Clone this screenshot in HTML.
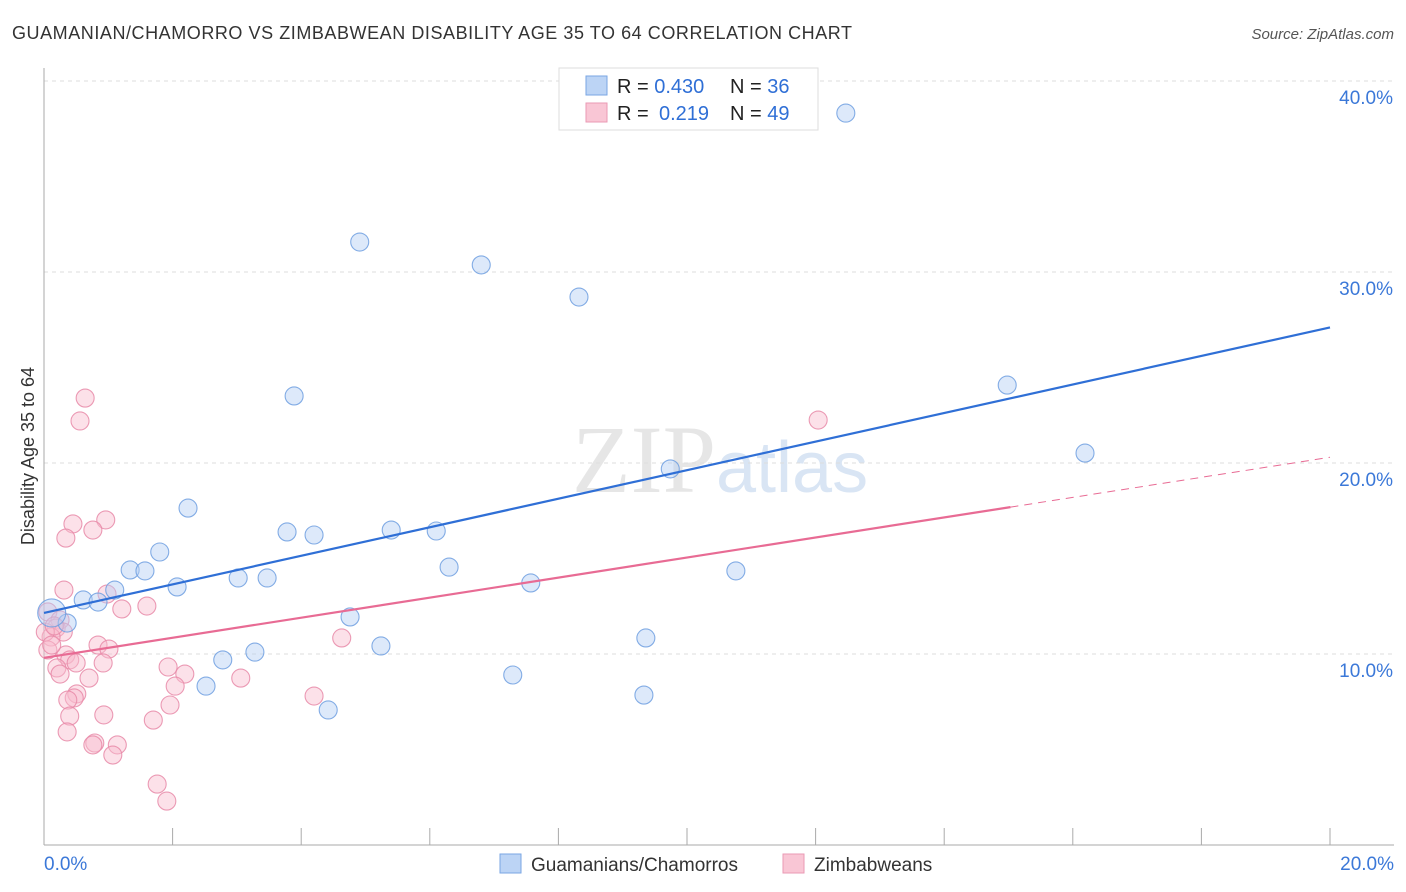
<!DOCTYPE html>
<html><head><meta charset="utf-8"><style>
body{margin:0;background:#fff;font-family:"Liberation Sans",sans-serif;}
svg{display:block}
</style></head><body>
<svg id="chart" width="1406" height="892" xmlns="http://www.w3.org/2000/svg">
<text x="12" y="39" font-size="18" fill="#333" textLength="840">GUAMANIAN/CHAMORRO VS ZIMBABWEAN DISABILITY AGE 35 TO 64 CORRELATION CHART</text>
<text x="1394" y="39" font-size="15" fill="#555" font-style="italic" text-anchor="end">Source: ZipAtlas.com</text>
<text x="716" y="492" font-size="96" fill="#e6e6e6" text-anchor="end" font-family="Liberation Serif,serif">ZIP</text>
<text x="716" y="492" font-size="72" fill="#d9e5f4">atlas</text>
<g id="grid"></g><g id="axes"></g><g id="marks"></g>
<text transform="translate(34,456) rotate(-90)" font-size="18" fill="#333" text-anchor="middle">Disability Age 35 to 64</text>
<g>
<rect x="559" y="68" width="259" height="62" fill="#fff" stroke="#ddd"/>
<rect x="586" y="76" width="21" height="19" fill="#bcd4f5" stroke="#7aa6e3"/>
<rect x="586" y="103" width="21" height="19" fill="#f9c6d5" stroke="#ea9ab4"/>
<text x="617" y="93" font-size="20" fill="#222">R = <tspan fill="#2f6fd6">0.430</tspan><tspan x="730">N = </tspan><tspan fill="#2f6fd6">36</tspan></text>
<text x="617" y="120" font-size="20" fill="#222">R = <tspan fill="#2f6fd6" x="659">0.219</tspan><tspan x="730">N = </tspan><tspan fill="#2f6fd6">49</tspan></text>
</g>
<g>
<rect x="500" y="854" width="21" height="19" fill="#bcd4f5" stroke="#7aa6e3"/>
<text x="531" y="871" font-size="19" fill="#333">Guamanians/Chamorros</text>
<rect x="783" y="854" width="21" height="19" fill="#f9c6d5" stroke="#ea9ab4"/>
<text x="814" y="871" font-size="19" fill="#333">Zimbabweans</text>
</g>
</svg>
<script>
const blueX=[12.47,4.91,6.80,8.32,3.89,14.98,16.19,9.74,2.24,3.78,4.20,5.40,6.10,1.80,1.34,1.57,6.30,10.76,7.57,1.10,2.07,3.02,3.47,0.61,0.84,4.76,0.36,0.12,9.36,5.24,3.28,2.78,2.52,7.29,9.33,4.42];
const blueY=[38.32,31.57,30.37,28.69,23.51,24.08,20.52,19.69,17.64,16.39,16.23,16.49,16.44,15.34,14.40,14.35,14.55,14.35,13.72,13.35,13.51,13.98,13.98,12.83,12.72,11.94,11.62,12.15,10.84,10.42,10.10,9.69,8.32,8.90,7.85,7.07];
const pinkX=[0.64,0.56,12.04,0.45,0.96,0.76,0.34,0.31,0.98,1.21,1.60,0.06,0.25,0.19,0.30,0.11,0.02,0.84,1.01,4.63,0.06,0.34,0.40,0.50,0.92,0.20,1.93,2.19,0.25,0.70,3.06,2.04,0.51,0.47,0.37,4.20,1.96,0.93,0.40,1.70,0.36,0.79,0.76,1.14,1.07,1.76,1.91,0.12,0.16];
const pinkY=[23.40,22.20,22.25,16.81,17.02,16.49,16.07,13.35,13.14,12.36,12.51,12.20,11.78,11.36,11.15,10.89,11.15,10.47,10.26,10.84,10.21,9.95,9.69,9.53,9.53,9.27,9.32,8.95,8.95,8.74,8.74,8.32,7.91,7.70,7.59,7.80,7.33,6.81,6.75,6.54,5.92,5.34,5.24,5.24,4.71,3.19,2.30,10.47,11.47];
const blueTrend=[12.15,27.1];
const pinkTrend=[9.8,20.3];
const pinkSolidEnd=15.03;
const yTicks=[10,20,30,40];
const yTickLabels=["10.0%","20.0%","30.0%","40.0%"];
const xTickLabels=["0.0%","20.0%"];
const NS="http://www.w3.org/2000/svg";
const sx=v=>44+v*64.3, sy=v=>845-v*19.1;
function mk(t,a,p){const e=document.createElementNS(NS,t);for(const k in a)e.setAttribute(k,a[k]);p.appendChild(e);return e;}
const grid=document.getElementById('grid'),axes=document.getElementById('axes'),marks=document.getElementById('marks');
yTicks.forEach((v,i)=>{
 const g=mk('line',{x1:44,x2:1394,y1:sy(v),y2:sy(v),stroke:'#ddd','stroke-dasharray':'4,4'},grid);
 
 
 const t=mk('text',{x:1393,y:sy(v)+23,'font-size':19,fill:'#3b78d8','text-anchor':'end'},axes);t.textContent=yTickLabels[i];
 
 
});
const ya=mk('line',{x1:44,x2:44,y1:68,y2:845,stroke:'#aaa'},axes);


const xa=mk('line',{x1:44,x2:1394,y1:845,y2:845,stroke:'#aaa'},axes);


for(let i=0;i<=20;i+=2){const tk=mk('line',{x1:sx(i),x2:sx(i),y1:828,y2:845,stroke:'#aaa'},axes);
 
 }
[[0,'start',44],[20,'end',1394]].forEach((d,i)=>{const t=mk('text',{x:d[2],y:870,'font-size':19,fill:'#3b78d8','text-anchor':d[1]},axes);t.textContent=xTickLabels[i];
 
 });
function pts(X,Y,fill,stroke,name){X.forEach((x,i)=>{const r=(name==='guamanian-point'&&i===27)?14:9;
 const c=mk('circle',{cx:sx(x),cy:sy(Y[i]),r:r,fill:fill,'fill-opacity':0.45,stroke:stroke,'stroke-width':1.1,'stroke-opacity':0.85},marks);
 
 });}
pts(pinkX,pinkY,'#f9bccf','#e88aa8','zimbabwean-point');
pts(blueX,blueY,'#b3cff3','#6f9fe0','guamanian-point');
const bl=mk('line',{x1:sx(0),y1:sy(blueTrend[0]),x2:sx(20),y2:sy(blueTrend[1]),stroke:'#2f6fd6','stroke-width':2.2},marks);


const pm=v=>pinkTrend[0]+(pinkTrend[1]-pinkTrend[0])*v/20;
const pl=mk('line',{x1:sx(0),y1:sy(pm(0)),x2:sx(pinkSolidEnd),y2:sy(pm(pinkSolidEnd)),stroke:'#e86b94','stroke-width':2.2},marks);


const pd=mk('line',{x1:sx(pinkSolidEnd),y1:sy(pm(pinkSolidEnd)),x2:sx(20),y2:sy(pm(20)),stroke:'#e86b94','stroke-width':1,'stroke-dasharray':'8,6'},marks);


</script>
</body></html>
